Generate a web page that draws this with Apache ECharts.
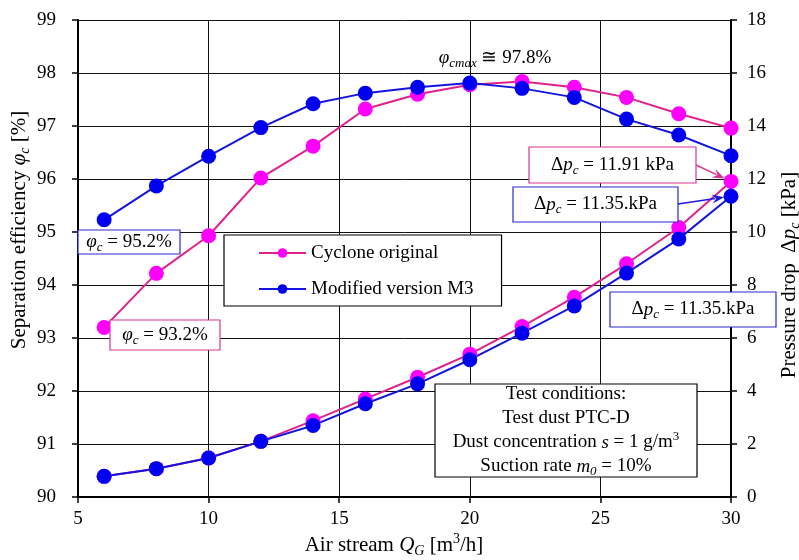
<!DOCTYPE html>
<html>
<head>
<meta charset="utf-8">
<script src="https://cdn.jsdelivr.net/npm/echarts@6/dist/echarts.min.js"></script>
<style>
  html, body { margin: 0; padding: 0; background: #fff; }
  #main { width: 799px; height: 560px; }
</style>
</head>
<body>
<div id="main"></div>
<script>
// air stream Q_G [m3/h]
const airStream = [6, 8, 10, 12, 14, 16, 18, 20, 22, 24, 26, 28, 30];
// separation efficiency [%]
const effOriginal = [93.2, 94.22, 94.93, 96.02, 96.62, 97.32, 97.6, 97.78, 97.84, 97.73, 97.54, 97.23, 96.96];
const effM3 = [95.23, 95.87, 96.43, 96.97, 97.42, 97.62, 97.73, 97.81, 97.71, 97.54, 97.13, 96.83, 96.44];
// pressure drop [kPa]
const dpOriginal = [0.78, 1.07, 1.47, 2.1, 2.88, 3.7, 4.52, 5.39, 6.43, 7.54, 8.8, 10.17, 11.91];
const dpM3 = [0.78, 1.07, 1.47, 2.1, 2.7, 3.52, 4.27, 5.18, 6.18, 7.21, 8.45, 9.74, 11.35];
const seriesNames = ['Cyclone original', 'Modified version M3'];

const FONT = '"Liberation Serif", "Times New Roman", serif';
const MAGENTA_LINE = '#e0218c';
const MAGENTA_DOT = '#ff00ff';
const BLUE_LINE = '#1414e0';
const BLUE_DOT = '#0000f0';

const pairs = (ys) => airStream.map((x, i) => [x, ys[i]]);

// rich text styles for italics, subscripts, superscripts
const rich = {
  n: { fontSize: 19, fontFamily: FONT, color: '#000', lineHeight: 24 },
  i: { fontSize: 19, fontFamily: FONT, fontStyle: 'italic', color: '#000', lineHeight: 24 },
  sub: { fontSize: 13, fontFamily: FONT, fontStyle: 'italic', color: '#000', verticalAlign: 'bottom', lineHeight: 15 },
  sup: { fontSize: 13, fontFamily: FONT, color: '#000', verticalAlign: 'top', lineHeight: 15 }
};
// slightly larger text for axis titles
const richTitle = {
  n: { fontSize: 21, fontFamily: FONT, color: '#000', lineHeight: 26 },
  i: { fontSize: 21, fontFamily: FONT, fontStyle: 'italic', color: '#000', lineHeight: 26 },
  sub: { fontSize: 14, fontFamily: FONT, fontStyle: 'italic', color: '#000', verticalAlign: 'bottom', lineHeight: 16 },
  sup: { fontSize: 14, fontFamily: FONT, color: '#000', verticalAlign: 'top', lineHeight: 16 }
};

const chart = echarts.init(document.getElementById('main'), null, { renderer: 'canvas' });

function lineSeries(name, data, yIdx, lineColor, dotColor) {
  return {
    name: name,
    type: 'line',
    yAxisIndex: yIdx,
    data: pairs(data),
    symbol: 'circle',
    symbolSize: 15,
    lineStyle: { color: lineColor, width: 2 },
    itemStyle: { color: dotColor },
    emphasis: { disabled: true },
    z: 3
  };
}

chart.setOption({
  animation: false,
  textStyle: { fontFamily: FONT },
  grid: { left: 78, right: 68, top: 20, bottom: 63, containLabel: false },
  legend: {
    data: seriesNames,
    orient: 'vertical',
    left: 224,
    top: 235,
    padding: [7, 28, 6, 34],
    itemGap: 14,
    itemWidth: 47,
    itemHeight: 12,
    backgroundColor: '#fff',
    borderColor: '#000',
    borderWidth: 1.2,
    borderRadius: 0,
    textStyle: { fontSize: 19, fontFamily: FONT, color: '#000', lineHeight: 22 },
    z: 20
  },
  xAxis: {
    type: 'value',
    min: 5,
    max: 30,
    interval: 5,
    axisLine: { lineStyle: { color: '#000', width: 2 } },
    axisTick: { show: true, inside: false, length: 6, lineStyle: { color: '#000', width: 1.5 } },
    axisLabel: { color: '#000', fontSize: 19, fontFamily: FONT, margin: 13 },
    splitLine: { show: true, lineStyle: { color: '#111', width: 1 } }
  },
  yAxis: [
    {
      type: 'value',
      min: 90,
      max: 99,
      interval: 1,
      position: 'left',
      axisLine: { show: true, lineStyle: { color: '#000', width: 2 } },
      axisTick: { show: true, inside: false, length: 6, lineStyle: { color: '#000', width: 1.5 } },
      axisLabel: { color: '#000', fontSize: 19, fontFamily: FONT, margin: 22 },
      splitLine: { show: true, lineStyle: { color: '#111', width: 1 } }
    },
    {
      type: 'value',
      min: 0,
      max: 18,
      interval: 2,
      position: 'right',
      axisLine: { show: true, lineStyle: { color: '#000', width: 2 } },
      axisTick: { show: true, inside: false, length: 6, lineStyle: { color: '#000', width: 1.5 } },
      axisLabel: { color: '#000', fontSize: 19, fontFamily: FONT, margin: 16 },
      splitLine: { show: false }
    }
  ],
  series: [
    lineSeries(seriesNames[0], effOriginal, 0, MAGENTA_LINE, MAGENTA_DOT),
    lineSeries(seriesNames[0], dpOriginal, 1, MAGENTA_LINE, MAGENTA_DOT),
    lineSeries(seriesNames[1], effM3, 0, BLUE_LINE, BLUE_DOT),
    lineSeries(seriesNames[1], dpM3, 1, BLUE_LINE, BLUE_DOT)
  ]
});

// boxed annotation: rect + centred rich text
function box(x, y, w, h, stroke, text) {
  return [
    {
      type: 'rect', z: 30,
      shape: { x: x, y: y, width: w, height: h },
      style: { fill: '#fff', stroke: stroke, lineWidth: 1.2 }
    },
    {
      type: 'text', z: 31,
      x: x + w / 2, y: y + h / 2,
      style: { text: text, rich: rich, align: 'center', verticalAlign: 'middle' }
    }
  ];
}

// arrow from a box edge to a data point (tip stops at marker edge)
function arrow(x1, y1, pt, color) {
  const dx = pt[0] - x1, dy = pt[1] - y1;
  const len = Math.sqrt(dx * dx + dy * dy);
  const ux = dx / len, uy = dy / len;
  const tx = pt[0] - ux * 7, ty = pt[1] - uy * 7;
  const hl = 12, hw = 4.5;
  const bx = tx - ux * hl, by = ty - uy * hl;
  return [
    {
      type: 'line', z: 29,
      shape: { x1: x1, y1: y1, x2: bx + ux * 3, y2: by + uy * 3 },
      style: { stroke: color, lineWidth: 1.5 }
    },
    {
      type: 'polygon', z: 29,
      shape: { points: [[tx, ty], [bx - uy * hw, by + ux * hw], [bx + ux * 4, by + uy * 4], [bx + uy * hw, by - ux * hw]] },
      style: { fill: color }
    }
  ];
}

const last = airStream.length - 1;
const tipOrig = chart.convertToPixel({ xAxisIndex: 0, yAxisIndex: 1 }, [airStream[last], dpOriginal[last]]);
const tipM3 = chart.convertToPixel({ xAxisIndex: 0, yAxisIndex: 1 }, [airStream[last], dpM3[last]]);

const dpText = (v) => '{n|Δ}{i|p}{sub|c}{n| = ' + v + '}';

let graphics = [];
graphics = graphics.concat(
  box(529, 147, 167, 36, '#d9358f', dpText('11.91 kPa')),
  box(513, 187, 165, 35, '#2a2ad0', dpText('11.35.kPa')),
  box(610, 292, 166, 35, '#2a2ad0', dpText('11.35.kPa')),
  box(78, 230, 102, 24, '#2a2ad0', '{i|φ}{sub|c}{n| = 95.2%}'),
  box(110, 320, 110, 30, '#d9358f', '{i|φ}{sub|c}{n| = 93.2%}'),
  box(435, 384, 262, 93, '#000',
    '{n|Test conditions:}\n{n|Test dust PTC-D}\n{n|Dust concentration }{i|s}{n| = 1 g/m}{sup|3}\n{n|Suction rate }{i|m}{sub|0}{n| = 10%}'),
  arrow(696, 165, tipOrig, '#d9358f'),
  arrow(678, 204, tipM3, '#1a1ae0'),
  [
    {
      type: 'text', z: 31, x: 495, y: 58,
      style: { text: '{i|φ}{sub|cmax}{n| ≅ 97.8%}', rich: rich, align: 'center', verticalAlign: 'middle' }
    },
    {
      type: 'text', z: 31, x: 19, y: 230, rotation: Math.PI / 2,
      style: { text: '{n|Separation efficiency }{i|φ}{sub|c}{n| [%]}', rich: richTitle, align: 'center', verticalAlign: 'middle' }
    },
    {
      type: 'text', z: 31, x: 789, y: 275, rotation: Math.PI / 2,
      style: { text: '{n|Pressure drop  Δ}{i|p}{sub|c}{n| [kPa]}', rich: richTitle, align: 'center', verticalAlign: 'middle' }
    },
    {
      type: 'text', z: 31, x: 394, y: 545,
      style: { text: '{n|Air stream }{i|Q}{sub|G}{n| [m}{sup|3}{n|/h]}', rich: richTitle, align: 'center', verticalAlign: 'middle' }
    }
  ]
);

chart.setOption({ graphic: graphics });
</script>
</body>
</html>
